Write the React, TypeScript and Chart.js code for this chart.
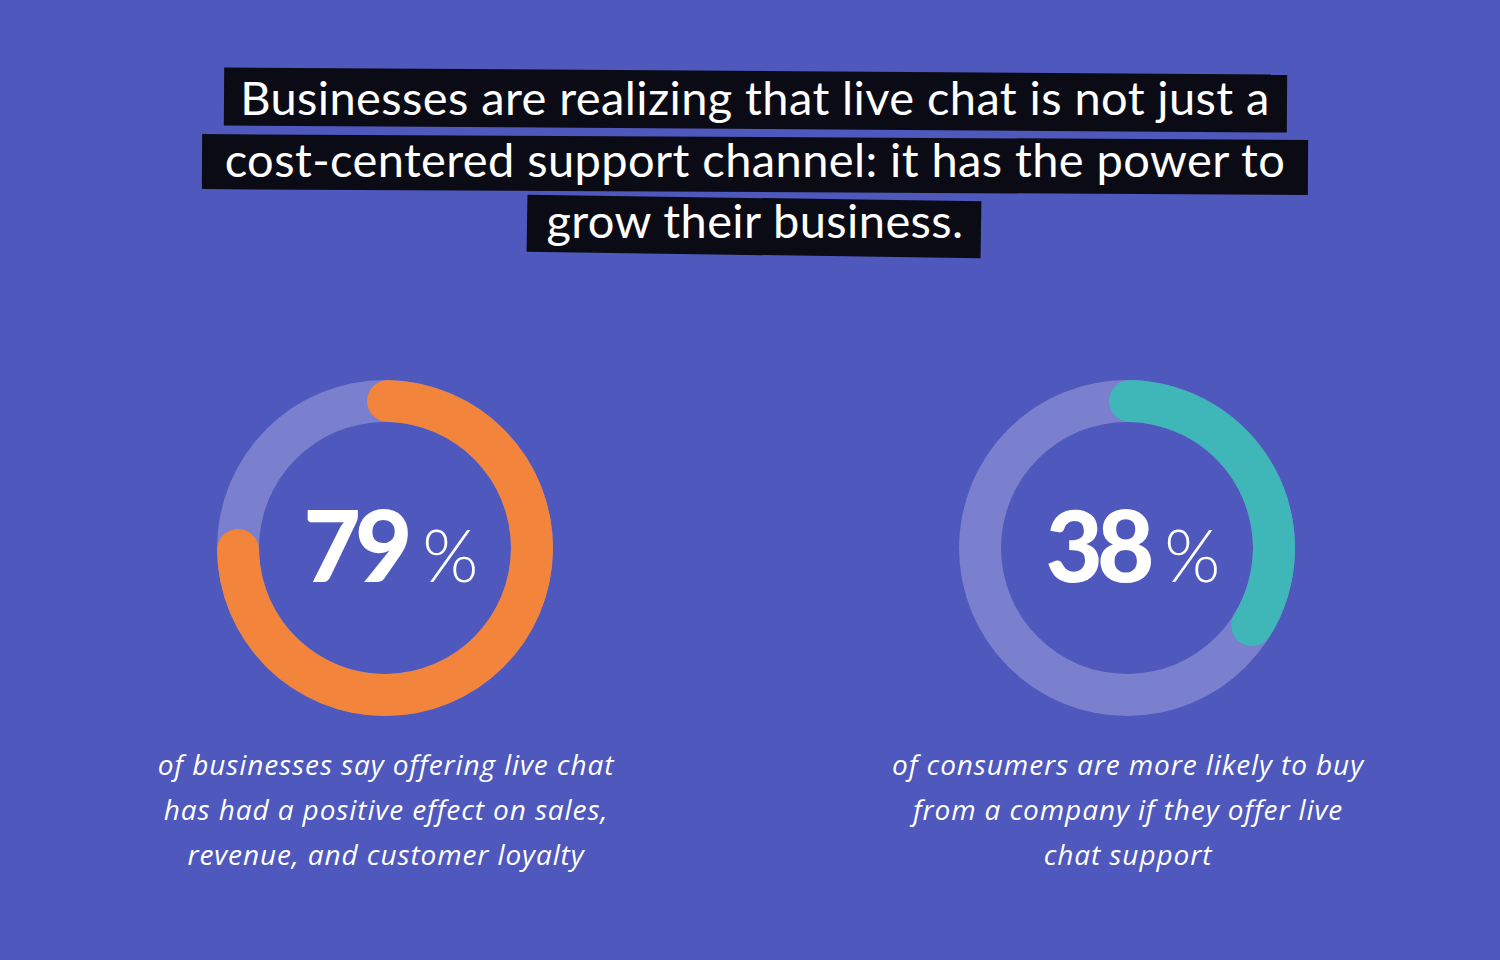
import React, { useEffect, useRef } from "react";
import { Chart, registerables } from "chart.js";

Chart.register(...registerables);

// ---- data ----
const TITLE_LINES = [
  "Businesses are realizing that live chat is not just a",
  "cost-centered support channel: it has the power to",
  "grow their business.",
];
const STAT_LABELS = ["Businesses", "Consumers"];
const STAT_VALUES = [79, 38];
const STAT_COLORS = ["#F2843B", "#3FB6B8"];
const CAPTIONS = [
  [
    "of businesses say offering live chat",
    "has had a positive effect on sales,",
    "revenue, and customer loyalty",
  ],
  [
    "of consumers are more likely to buy",
    "from a company if they offer live",
    "chat support",
  ],
];

const BG = "#4F58BD";
const TRACK = "#7A80CD";

const trackPlugin = {
  id: "ringTrack",
  beforeDatasetsDraw(chart: any, _args: any, opts: any) {
    const arc = chart.getDatasetMeta(0).data[0] as any;
    if (!arc) return;
    const p = arc.getProps(["x", "y", "innerRadius", "outerRadius"], true);
    const ctx = chart.ctx;
    ctx.save();
    ctx.beginPath();
    ctx.arc(p.x, p.y, p.outerRadius, 0, Math.PI * 2, false);
    ctx.arc(p.x, p.y, p.innerRadius, Math.PI * 2, 0, true);
    ctx.closePath();
    ctx.fillStyle = opts.color || TRACK;
    ctx.fill();
    ctx.restore();
  },
};

function Donut({ value, color, label, left, top }: any) {
  const ref = useRef<HTMLCanvasElement | null>(null);
  useEffect(() => {
    if (!ref.current) return;
    const chart = new Chart(ref.current, {
      type: "doughnut",
      data: {
        labels: [label, "Other"],
        datasets: [
          {
            data: [value, 100 - value],
            backgroundColor: [color, "rgba(0,0,0,0)"],
            borderWidth: 0,
            borderRadius: (c: any) => (c.dataIndex === 0 ? 30 : 0),
          } as any,
        ],
      },
      options: {
        responsive: false,
        maintainAspectRatio: false,
        animation: false,
        events: [],
        cutout: 126,
        rotation: -7,
        layout: { padding: 0 },
        plugins: {
          legend: { display: false },
          tooltip: { enabled: false },
          ringTrack: { color: TRACK },
        } as any,
      },
      plugins: [trackPlugin],
    });
    return () => chart.destroy();
  }, [value, color, label]);
  return (
    <canvas
      ref={ref}
      width={336}
      height={336}
      style={{ position: "absolute", left, top, width: 336, height: 336 }}
    />
  );
}

const TITLE_BOXES = [
  { left: 224, top: 71, width: 1063, height: 58, rot: 0.38 },
  { left: 202, top: 137, width: 1106, height: 55, rot: 0.3 },
  { left: 527, top: 198, width: 454, height: 57, rot: 0.85 },
];
const TITLE_BASELINES = [116, 178, 239];

export default function App() {
  useEffect(() => {
    document.body.style.margin = "0";
  }, []);
  const titleFs = 47;
  const capFs = 28;
  const centersX = [386, 1128];
  return (
    <div
      style={{
        position: "absolute",
        left: 0,
        top: 0,
        width: 1500,
        height: 960,
        background: BG,
        overflow: "hidden",
        fontFamily: "Lato, 'Open Sans', sans-serif",
        color: "#fff",
      }}
    >
      {TITLE_BOXES.map((b, i) => (
        <div
          key={"b" + i}
          style={{
            position: "absolute",
            left: b.left,
            top: b.top,
            width: b.width,
            height: b.height,
            background: "#0B0B16",
            transform: `rotate(${b.rot}deg)`,
          }}
        />
      ))}
      {TITLE_LINES.map((t, i) => (
        <div
          key={"t" + i}
          style={{
            position: "absolute",
            left: 0,
            width: 1510,
            top: TITLE_BASELINES[i] - Math.round(titleFs * 0.887),
            fontSize: titleFs,
            lineHeight: `${titleFs}px`,
            letterSpacing: 0.4,
            textAlign: "center",
            whiteSpace: "nowrap",
            fontWeight: 400,
          }}
        >
          {t}
        </div>
      ))}
      <Donut value={STAT_VALUES[0]} color={STAT_COLORS[0]} label={STAT_LABELS[0]} left={217} top={380} />
      <Donut value={STAT_VALUES[1]} color={STAT_COLORS[1]} label={STAT_LABELS[1]} left={959} top={380} />
      {STAT_VALUES.map((v, i) => (
        <div
          key={"n" + i}
          style={{
            position: "absolute",
            left: centersX[i] + 5 - 200,
            width: 400,
            top: 583 - 89,
            height: 100,
            display: "flex",
            justifyContent: "center",
            alignItems: "baseline",
            lineHeight: "100px",
          }}
        >
          <span style={{ fontSize: 99, fontWeight: 900, letterSpacing: -6 }}>{v}</span>
          <span style={{ fontSize: 72, fontWeight: 300, marginLeft: 16 }}>%</span>
        </div>
      ))}
      {CAPTIONS.map((lines, i) =>
        lines.map((l, j) => (
          <div
            key={"c" + i + j}
            style={{
              position: "absolute",
              left: centersX[i] - 300,
              width: 600,
              top: 775 + j * 45 - Math.round(capFs * 1.07),
              fontSize: capFs,
              lineHeight: `${capFs * 1.36}px`,
              fontFamily: "'Open Sans', Lato, sans-serif",
              fontStyle: "italic",
              letterSpacing: 0.9,
              textAlign: "center",
              whiteSpace: "nowrap",
            }}
          >
            {l}
          </div>
        ))
      )}
    </div>
  );
}
